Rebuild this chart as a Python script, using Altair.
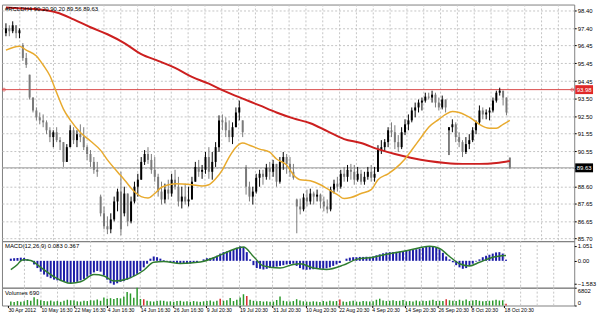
import json
import altair as alt
import pandas as pd

# ---------------- data ----------------
opens = [
    97.12, 97.39, 97.23, 97.56, 97.12, 96.46, 95.74, 94.81, 93.54, 92.82,
    92.44, 92.27, 92.16, 91.72, 91.34, 91.61, 91.17, 91.06, 89.96, 90.78,
    91.72, 91.17, 91.50, 91.34, 90.78, 90.40, 89.96, 89.52, 88.03, 87.10,
    86.38, 86.21, 86.76, 87.76, 88.31, 87.10, 88.20, 86.65, 87.76, 88.58,
    88.97, 89.96, 90.40, 90.07, 89.52, 89.13, 88.31, 87.87, 88.42, 88.20,
    88.97, 88.58, 87.76, 88.03, 87.76, 87.87, 88.86, 89.68, 89.41, 89.52,
    90.23, 89.41, 89.96, 90.78, 92.27, 92.16, 91.72, 91.34, 91.89, 92.71,
    92.27, 89.68, 88.58, 88.03, 88.31, 89.08, 89.30, 89.13, 89.63, 89.41,
    89.85, 88.86, 89.96, 90.23, 89.85, 89.41, 87.87, 87.48, 87.32, 87.98,
    87.76, 88.20, 88.03, 88.14, 87.76, 87.48, 87.32, 88.42, 88.75, 88.58,
    89.30, 89.13, 89.52, 89.41, 88.97, 89.30, 88.86, 89.13, 89.41, 89.08,
    89.41, 90.62, 90.78, 91.06, 91.72, 91.61, 91.06, 90.78, 91.61, 92.05,
    92.27, 92.82, 92.99, 93.26, 93.37, 93.59, 93.54, 93.70, 93.26, 92.99,
    93.43, 91.72, 91.89, 92.05, 91.34, 91.06, 90.51, 90.95, 91.17, 91.72,
    92.16, 92.82, 92.60, 92.71, 92.82, 93.37, 93.81, 93.92, 93.54, 90.20,
]
highs = [
    97.67, 97.56, 97.78, 97.56, 97.39, 96.57, 96.02, 94.81, 93.54, 92.99,
    92.71, 92.60, 92.27, 91.89, 91.72, 91.89, 91.34, 91.06, 90.95, 92.00,
    91.89, 91.72, 92.05, 91.89, 90.89, 90.62, 90.23, 89.96, 88.14, 87.48,
    86.93, 87.10, 88.03, 88.47, 89.41, 88.58, 88.20, 88.03, 88.86, 89.30,
    90.23, 90.62, 90.78, 90.40, 90.23, 89.30, 88.86, 88.75, 88.97, 89.30,
    89.52, 89.13, 88.58, 88.75, 88.58, 89.13, 89.96, 90.07, 89.79, 90.51,
    90.78, 90.51, 91.06, 92.55, 92.60, 92.44, 92.27, 92.16, 92.99, 93.37,
    92.27, 89.79, 88.86, 88.58, 89.30, 89.52, 89.52, 89.85, 89.96, 90.07,
    89.85, 90.23, 90.51, 90.40, 90.23, 89.85, 87.92, 87.92, 88.20, 88.42,
    88.47, 88.31, 88.42, 88.20, 88.03, 87.87, 88.58, 88.97, 89.13, 89.52,
    89.68, 89.79, 89.85, 89.79, 89.68, 89.52, 89.41, 89.68, 89.79, 89.68,
    90.89, 91.17, 91.23, 91.89, 92.16, 92.00, 91.45, 91.89, 92.33, 92.60,
    92.99, 93.26, 93.43, 93.54, 93.81, 93.81, 93.92, 93.81, 93.54, 93.65,
    93.43, 91.89, 92.33, 92.16, 91.61, 91.17, 91.34, 91.50, 91.89, 92.27,
    93.10, 92.99, 92.88, 92.99, 93.54, 93.92, 94.09, 93.92, 93.54, 90.20,
]
lows = [
    96.95, 96.95, 97.12, 96.84, 96.84, 95.58, 95.19, 93.43, 92.71, 92.27,
    92.05, 91.89, 91.50, 91.06, 90.78, 91.06, 90.62, 89.68, 89.96, 90.78,
    90.95, 90.78, 91.06, 90.62, 90.07, 89.68, 89.30, 89.13, 86.93, 86.21,
    85.94, 85.99, 86.65, 87.21, 85.88, 86.93, 86.38, 86.54, 87.65, 88.03,
    88.97, 89.79, 89.85, 89.30, 88.86, 88.03, 87.59, 87.65, 87.87, 88.03,
    88.42, 87.48, 87.37, 87.59, 87.48, 87.87, 88.86, 89.13, 89.02, 89.30,
    89.02, 88.97, 89.68, 90.51, 91.72, 91.34, 91.06, 90.95, 91.89, 92.27,
    91.34, 88.14, 87.76, 87.59, 88.20, 88.58, 88.69, 88.97, 88.97, 89.13,
    88.58, 88.75, 89.52, 89.30, 89.13, 88.97, 85.99, 87.04, 87.21, 87.48,
    87.59, 87.59, 87.76, 87.37, 87.21, 87.10, 87.21, 88.20, 88.31, 88.47,
    88.86, 88.86, 88.97, 88.69, 88.86, 88.69, 88.69, 88.97, 88.86, 88.86,
    89.41, 90.40, 90.51, 90.78, 91.34, 90.67, 90.51, 90.67, 91.45, 91.72,
    92.16, 92.44, 92.71, 92.82, 93.26, 93.43, 93.26, 92.99, 92.82, 92.88,
    92.71, 90.34, 91.61, 91.06, 90.78, 90.23, 90.40, 90.67, 91.06, 91.50,
    92.05, 92.33, 92.33, 92.27, 92.71, 93.26, 93.65, 93.10, 92.55, 89.56,
]
closes = [
    97.39, 97.23, 97.56, 97.12, 97.28, 95.74, 95.36, 93.54, 92.82, 92.44,
    92.27, 92.16, 91.72, 91.34, 91.61, 91.17, 91.06, 89.96, 90.78, 91.72,
    91.17, 91.50, 91.34, 90.78, 90.40, 89.96, 89.52, 89.41, 87.10, 86.38,
    86.21, 86.76, 87.76, 88.31, 86.21, 88.20, 86.65, 87.76, 88.58, 88.97,
    89.96, 90.40, 90.07, 89.52, 89.13, 88.31, 87.87, 88.42, 88.20, 88.97,
    88.58, 87.76, 88.03, 87.76, 87.87, 88.86, 89.68, 89.41, 89.52, 90.23,
    89.41, 89.96, 90.78, 92.27, 92.16, 91.72, 91.34, 91.89, 92.71, 92.99,
    91.61, 88.58, 88.03, 88.31, 89.08, 89.30, 89.13, 89.63, 89.41, 89.85,
    88.86, 89.96, 90.23, 89.85, 89.41, 89.08, 87.48, 87.32, 87.98, 87.76,
    88.20, 88.03, 88.14, 87.76, 87.48, 87.32, 88.42, 88.75, 88.58, 89.30,
    89.13, 89.52, 89.41, 88.97, 89.30, 88.86, 89.13, 89.41, 89.08, 89.30,
    90.62, 90.78, 91.06, 91.72, 91.61, 91.06, 90.78, 91.61, 92.05, 92.27,
    92.82, 92.99, 93.26, 93.37, 93.59, 93.54, 93.70, 93.26, 92.99, 93.43,
    92.99, 91.89, 92.05, 91.34, 91.06, 90.51, 90.95, 91.17, 91.72, 92.16,
    92.82, 92.60, 92.71, 92.82, 93.37, 93.81, 93.92, 93.54, 92.71, 89.63,
]
macd_main = [
    0.15, 0.18, 0.20, 0.22, 0.20, 0.12, 0.00, -0.25, -0.50, -0.75,
    -0.95, -1.10, -1.20, -1.30, -1.35, -1.40, -1.45, -1.52, -1.55, -1.50,
    -1.45, -1.35, -1.25, -1.10, -0.95, -0.80, -0.70, -0.75, -1.00, -1.30,
    -1.55, -1.65, -1.55, -1.45, -1.40, -1.30, -1.20, -1.05, -0.90, -0.70,
    -0.45, -0.20, 0.15, 0.30, 0.25, 0.15, 0.05, -0.05, -0.10, -0.12,
    -0.15, -0.18, -0.20, -0.20, -0.18, -0.15, -0.10, 0.00, 0.10, 0.18,
    0.20, 0.25, 0.35, 0.50, 0.60, 0.65, 0.72, 0.80, 0.90, 1.00,
    0.95, 0.60, 0.10, -0.30, -0.50, -0.55, -0.60, -0.55, -0.50, -0.45,
    -0.40, -0.35, -0.30, -0.25, -0.22, -0.20, -0.35, -0.50, -0.60, -0.62,
    -0.60, -0.58, -0.55, -0.55, -0.55, -0.52, -0.45, -0.35, -0.25, -0.15,
    0.00, 0.15, 0.22, 0.25, 0.25, 0.27, 0.27, 0.28, 0.28, 0.30,
    0.38, 0.45, 0.52, 0.58, 0.60, 0.60, 0.62, 0.64, 0.68, 0.72,
    0.75, 0.77, 0.80, 0.85, 0.90, 0.97, 1.00, 0.98, 0.92, 0.80,
    0.55, 0.30, 0.10, -0.10, -0.30, -0.45, -0.55, -0.50, -0.35, -0.20,
    -0.05, 0.10, 0.25, 0.35, 0.42, 0.50, 0.58, 0.60, 0.50, 0.08,
]
volumes = [
    1500, 1300, 1700, 1400, 1600, 2100, 1800, 3200, 2400, 2000,
    1700, 1600, 1900, 1500, 1700, 1400, 1800, 2200, 2000, 1900,
    1600, 1500, 1800, 1700, 2000, 1900, 2300, 1800, 3100, 2600,
    2800, 2500, 2900, 2700, 3300, 5200, 4600, 3000, 6800, 2500,
    2400, 1800, 1600, 1500, 1700, 1900, 1800, 1500, 1600, 1400,
    1700, 1800, 1500, 1600, 1400, 1700, 1500, 1400, 1600, 1700,
    1900, 1500, 1800, 2600, 1800, 2000, 2900, 1700, 2200, 3100,
    4300, 3600, 2200, 1800, 1600, 1700, 1500, 1600, 1400, 1500,
    2100, 3400, 1800, 1600, 1500, 1700, 2400, 1900, 1600, 1500,
    1400, 1600, 1500, 1300, 1700, 1500, 1800, 1600, 1700, 2300,
    1500, 1400, 1600, 1800, 1500, 1400, 1700, 1600, 1500, 1600,
    2200, 2600, 1900, 1700, 1800, 2000, 1700, 1800, 2100, 1600,
    1700, 1500, 1900, 1600, 1800, 1700, 1900, 2200, 1700, 1800,
    1700, 2400, 2000, 1800, 1700, 2200, 1800, 2300, 1700, 1900,
    2100, 1800, 1600, 1700, 1800, 1900, 2200, 1900, 2000, 690,
]
vol_red_bars = [40, 63, 71, 99, 131, 149]

slow_ma_idx = [0, 5, 10, 15, 20, 25, 30, 35, 40, 45, 50, 55, 60, 65, 70, 75,
               80, 85, 90, 95, 100, 105, 110, 115, 120, 125, 130, 135, 140, 145, 149]
slow_ma_val = [98.55, 98.49, 98.44, 98.27, 97.89, 97.45, 97.06, 96.57, 95.96, 95.58,
               95.19, 94.69, 94.31, 93.87, 93.48, 93.10, 92.71, 92.38, 92.11, 91.67,
               91.23, 91.01, 90.67, 90.40, 90.18, 90.01, 89.90, 89.85, 89.85, 89.90, 90.01]

fast_ma_idx = [0, 4, 6, 9, 11, 13, 15, 17, 19, 22, 25, 28, 30, 33, 35, 38, 40, 42,
               44, 46, 50, 55, 58, 60, 62, 64, 66, 68, 70, 72, 75, 78, 80, 83, 85,
               87, 90, 93, 95, 98, 100, 102, 105, 108, 110, 113, 115, 118, 120, 123,
               125, 128, 130, 132, 134, 136, 138, 140, 143, 145, 147, 149]
fast_ma_val = [96.18, 96.40, 96.18, 95.85, 95.35, 94.75, 93.81, 92.90, 92.30, 91.60,
               91.12, 90.60, 90.07, 89.40, 88.97, 88.30, 88.03, 87.95, 88.20, 88.55,
               88.75, 88.69, 88.62, 88.69, 89.02, 89.52, 90.23, 90.78, 91.01, 90.89,
               90.67, 90.50, 90.12, 89.79, 89.25, 88.97, 88.91, 88.69, 88.47, 88.14,
               87.92, 87.98, 88.20, 88.42, 88.97, 89.30, 89.57, 90.12, 90.62, 91.39,
               91.89, 92.33, 92.60, 92.77, 92.71, 92.55, 92.33, 92.05, 91.83, 91.83,
               92.05, 92.27]

signal_idx = [0, 2, 3, 4, 6, 9, 13, 18, 21, 25, 28, 31, 35, 40, 43, 46, 51, 57,
              62, 66, 70, 73, 76, 81, 85, 87, 91, 95, 100, 104, 109, 113, 119, 123,
              126, 129, 132, 135, 138, 141, 145, 149]
signal_val = [-0.60, -0.25, 0.00, 0.08, 0.02, -0.45, -1.10, -1.55, -1.45, -0.95,
              -1.05, -1.40, -1.25, -0.65, -0.10, -0.05, -0.18, -0.08, 0.30, 0.70,
              0.95, 0.30, -0.35, -0.50, -0.25, -0.20, -0.50, -0.60, -0.30, 0.10,
              0.25, 0.45, 0.70, 0.90, 1.00, 0.85, 0.30, -0.20, -0.35, -0.10,
              0.25, 0.37]

price_ticks = [98.40, 97.40, 96.45, 95.45, 94.45, 93.50, 92.50, 91.55, 90.55,
               89.60, 88.60, 87.65, 86.65, 85.70]
macd_ticks = [1.051, 0.0, -1.583]
vol_ticks = [6802, 0]
date_labels = ["30 Apr 2012", "10 May 16:30", "22 May 16:30", "4 Jun 16:30",
               "14 Jun 16:30", "26 Jun 16:30", "9 Jul 20:30", "19 Jul 20:30",
               "31 Jul 20:30", "10 Aug 20:30", "22 Aug 20:30", "4 Sep 20:30",
               "14 Sep 20:30", "26 Sep 20:30", "8 Oct 20:30", "18 Oct 20:30"]
level_price = 93.98
last_price = 89.63
header_text = "#RCLDH4  90.20 90.20 89.56 89.63"
macd_text = "MACD(12,26,9) 0.083 0.367"
vol_text = "Volumes 690"

# ---------------- layout ----------------
BAR_PX = 3.416
FIRST_PX = 4.0
PLOT_W = 578
XDOM = [-FIRST_PX / BAR_PX, (PLOT_W - FIRST_PX) / BAR_PX]
grid_pos = [(1 + 17 * k - FIRST_PX) / BAR_PX for k in range(1, 34)]
date_pos = [(1 + 34 * m - FIRST_PX) / BAR_PX for m in range(len(date_labels))]

FONT = "Liberation Sans"
GRID = "#c4c4c4"
FS = 6
FS_DATE = 5.2

n = len(closes)
bars = pd.DataFrame({"i": list(range(n)), "o": opens, "h": highs, "l": lows,
                     "c": closes, "m": macd_main, "v": volumes})
bars["dir"] = ["up" if c >= o else "down" for o, c in zip(opens, closes)]
bars["vc"] = ["red" if i in vol_red_bars else "green" for i in range(n)]

slow_df = pd.DataFrame({"i": slow_ma_idx, "p": slow_ma_val})
fast_df = pd.DataFrame({"i": fast_ma_idx, "p": fast_ma_val})
sig_df = pd.DataFrame({"i": signal_idx, "s": signal_val})
grid_df = pd.DataFrame({"g": grid_pos})

xs = alt.Scale(domain=XDOM, nice=False, zero=False)


def yaxis(values, label_expr, grid=False, flush=False):
    return alt.Axis(orient="right", values=values, labelExpr=label_expr, grid=grid,
                    gridDash=[2, 2], gridColor=GRID, gridWidth=1, tickSize=2,
                    tickColor="#000000", domain=False, labelFontSize=FS, labelFont=FONT,
                    labelColor="#000000", labelPadding=1, minExtent=19, maxExtent=19,
                    title=None, labelFlush=flush)


# ----- main price panel -----
MAIN_H = 239
ys = alt.Scale(domain=[85.551, 98.714], nice=False, zero=False)
pax = yaxis(price_ticks, "abs(datum.value - 89.6) < 0.001 ? '' : format(datum.value, '.2f')", grid=True)
X = lambda f: alt.X(f, type="quantitative", scale=xs, axis=None)
YP = lambda f: alt.Y(f, type="quantitative", scale=ys, axis=pax)
dir_color = alt.Color("dir:N", scale=alt.Scale(domain=["up", "down"], range=["#000000", "#7a7a7a"]), legend=None)

vgrid = alt.Chart(grid_df).mark_rule(color=GRID, strokeDash=[2, 2], strokeWidth=1).encode(x=X("g"))
level = alt.Chart(pd.DataFrame({"p": [level_price]})).mark_rule(color="#d94a4a", strokeWidth=1).encode(y=YP("p"))
level_ends = alt.Chart(pd.DataFrame({"p": [level_price, level_price], "e": [2, 576]})).mark_point(
    shape="circle", size=9, filled=False, color="#d94a4a", strokeWidth=1).encode(
    x=alt.X("e:Q", scale=None, axis=None), y=YP("p"))
bid = alt.Chart(pd.DataFrame({"p": [last_price]})).mark_rule(color="#9a9a9a", strokeWidth=1).encode(y=YP("p"))
wick = alt.Chart(bars).mark_rule(strokeWidth=1).encode(x=X("i"), y=YP("l"), y2="h", color=dir_color)
body = alt.Chart(bars).mark_rule(strokeWidth=2).encode(x=X("i"), y=YP("o"), y2="c", color=dir_color)
slow = alt.Chart(slow_df).mark_line(color="#cc1f1f", strokeWidth=2, interpolate="monotone").encode(x=X("i"), y=YP("p"))
fast = alt.Chart(fast_df).mark_line(color="#e8aa2e", strokeWidth=1.5, interpolate="monotone").encode(x=X("i"), y=YP("p"))
header = alt.Chart(pd.DataFrame({"t": [header_text]})).mark_text(
    align="left", baseline="top", fontSize=FS, font=FONT, color="#000000").encode(
    x=alt.value(3), y=alt.value(2), text="t:N")
box_lvl = alt.Chart(pd.DataFrame({"p": [level_price]})).mark_rect(color="#e02828", yOffset=-4.5, y2Offset=4.5).encode(
    x=alt.value(579), x2=alt.value(597), y=YP("p"), y2="p")
box_bid = alt.Chart(pd.DataFrame({"p": [last_price]})).mark_rect(color="#000000", yOffset=-4.5, y2Offset=4.5).encode(
    x=alt.value(579), x2=alt.value(597), y=YP("p"), y2="p")
box_txt = alt.Chart(pd.DataFrame({"p": [level_price, last_price],
                                  "t": [f"{level_price:.2f}", f"{last_price:.2f}"]})).mark_text(
    align="left", baseline="middle", fontSize=FS, font=FONT, color="#ffffff").encode(
    x=alt.value(580.5), y=YP("p"), text="t:N")

main = alt.layer(vgrid, level, bid, wick, body, slow, fast, level_ends, header,
                 box_lvl, box_bid, box_txt).properties(width=PLOT_W, height=MAIN_H)

# ----- MACD panel -----
ms = alt.Scale(domain=[-1.856, 1.359], nice=False, zero=False)
max_ = yaxis(macd_ticks, "datum.value == 0 ? '0.00' : format(datum.value, '.3f')")
YM = lambda f: alt.Y(f, type="quantitative", scale=ms, axis=max_)
hist = alt.Chart(bars).mark_bar(size=2, color="#1c1ca8").encode(x=X("i"), y=YM("m"), y2=alt.datum(0))
sig = alt.Chart(sig_df).mark_line(color="#2f7d2f", strokeWidth=1.5, interpolate="monotone").encode(x=X("i"), y=YM("s"))
mtitle = alt.Chart(pd.DataFrame({"t": [macd_text]})).mark_text(
    align="left", baseline="top", fontSize=FS, font=FONT, color="#000000").encode(
    x=alt.value(3), y=alt.value(2), text="t:N")
macd = alt.layer(vgrid, hist, sig, mtitle).properties(width=PLOT_W, height=47)

# ----- volume panel -----
xax = alt.Axis(orient="bottom", values=date_pos,
               labelExpr=f"{json.dumps(date_labels)}[round((datum.value*{BAR_PX}+{FIRST_PX}-1)/34)]",
               grid=False, tickSize=2, tickColor="#000000", domain=False, labelFontSize=FS_DATE,
               labelFont=FONT, labelColor="#000000", labelAlign="left", labelBaseline="top",
               labelPadding=0, labelFlush=False, labelOverlap=False, labelBound=False, title=None)
XV = lambda f: alt.X(f, type="quantitative", scale=xs, axis=xax)
vs = alt.Scale(domain=[0, 6802], nice=False, zero=True)
vax = yaxis(vol_ticks, "format(datum.value, 'd')", flush=True)
vgrid_v = alt.Chart(grid_df).mark_rule(color=GRID, strokeDash=[2, 2], strokeWidth=1).encode(x=XV("g"))
vbars = alt.Chart(bars).mark_bar(size=1.5).encode(
    x=XV("i"), y=alt.Y("v:Q", scale=vs, axis=vax),
    color=alt.Color("vc:N", scale=alt.Scale(domain=["green", "red"], range=["#2a9a2a", "#d42a2a"]), legend=None))
vtitle = alt.Chart(pd.DataFrame({"t": [vol_text]})).mark_text(
    align="left", baseline="top", fontSize=FS, font=FONT, color="#000000").encode(
    x=alt.value(3), y=alt.value(2), text="t:N")
vol = alt.layer(vgrid_v, vbars, vtitle).properties(width=PLOT_W, height=18)

chart = alt.vconcat(main, macd, vol, spacing=0, bounds="flush").resolve_scale(color="independent").properties(
    padding={"left": 0, "right": 0, "top": 1, "bottom": 0}, background="white"
).configure_view(stroke="#808080", strokeWidth=1)

chart.save("out.html", embed_options={"renderer": "svg", "actions": False})
